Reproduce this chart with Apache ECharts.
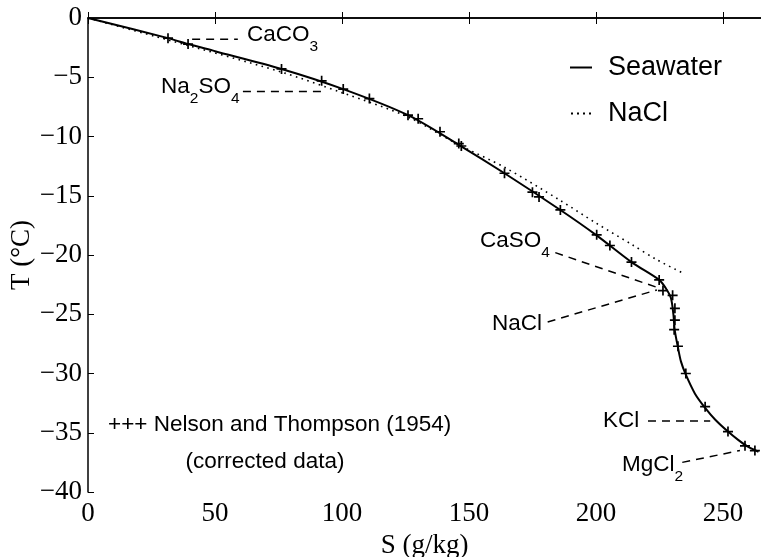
<!DOCTYPE html>
<html><head><meta charset="utf-8">
<script src="https://cdn.jsdelivr.net/npm/echarts@6/dist/echarts.min.js"></script>
<style>html,body{margin:0;padding:0;background:#fff}#c{width:761px;height:557px}</style>
</head><body><div id="c"></div>
<script>
// Seawater freezing curve (S g/kg, T °C)
const seawaterS = [0, 31.5, 39.4, 50, 76.2, 100.5, 126, 146, 164, 186, 200, 214, 224.9, 227.5, 229.5, 230.5, 231, 232.3, 233.5, 235.4, 239, 243, 247, 252, 256, 260, 264];
const seawaterT = [0, -1.7, -2.2, -2.8, -4.3, -6.0, -8.2, -10.7, -13.1, -16.2, -18.3, -20.6, -22.1, -22.8, -23.6, -25.0, -26.3, -27.8, -29.0, -30.1, -31.7, -32.9, -33.9, -34.9, -35.6, -36.2, -36.6];
// NaCl freezing curve (dotted)
const naclS = [0, 31.5, 76, 100, 126, 146, 164, 186, 200, 214, 224, 234];
const naclT = [0, -1.85, -4.55, -6.3, -8.35, -10.7, -12.6, -15.4, -17.3, -19.1, -20.4, -21.5];
// Nelson and Thompson (1954) corrected data
const obsS = [31.5, 39.4, 76.2, 92, 100.5, 110.8, 126, 130, 138.6, 146, 147, 164, 175, 177.6, 186, 200.3, 205.5, 214, 224.9, 226.4, 230.2, 231.1, 231.1, 230.8, 232.3, 235.4, 243, 252, 258.7, 262.6];
const obsT = [-1.7, -2.2, -4.3, -5.3, -6.0, -6.8, -8.2, -8.5, -9.6, -10.6, -10.8, -13.1, -14.7, -15.1, -16.2, -18.3, -19.2, -20.6, -22.1, -23.0, -23.4, -24.5, -25.5, -26.3, -27.7, -30.0, -32.8, -34.9, -36.1, -36.5];
// Precipitation annotations
const annoNames = ['CaCO3', 'Na2SO4', 'CaSO4', 'NaCl', 'KCl', 'MgCl2'];
const annoText = ['{m|CaCO}{s|3}', '{m|Na}{s|2}{m|SO}{s|4}', '{m|CaSO}{s|4}', '{m|NaCl}', '{m|KCl}', '{m|MgCl}{s|2}'];
const annoLabelS = [62.6, 28.7, 154.3, 158.9, 202.8, 210.2];
const annoLabelT = [-1.43, -5.82, -18.78, -25.86, -34.05, -37.76];
const leaderS = [[41, 59], [61, 94], [184, 225], [181, 224], [220.5, 245], [234, 256.7]];
const leaderT = [[-1.8, -1.8], [-6.2, -6.2], [-19.8, -22.8], [-25.65, -22.95], [-34.0, -34.0], [-37.5, -36.5]];
const xTicks = [0, 50, 100, 150, 200, 250];
const yTicks = [0, -5, -10, -15, -20, -25, -30, -35, -40];

const zip = (a, b) => a.map((v, i) => [v, b[i]]);
const serif = 'Liberation Serif';
const sans = 'Liberation Sans';
const fmtNum = v => (xTicks.includes(v) || yTicks.includes(v)) ? '{t|' + String(v).replace('-', '\u2212') + '}' : '';
const tickRich = { t: { fontFamily: serif, fontSize: 27, color: '#000' } };

const series = [
  { name: 'Seawater', type: 'line', data: zip(seawaterS, seawaterT), smooth: 0.3, symbol: 'none',
    itemStyle: { color: '#000' }, lineStyle: { color: '#000', width: 2 }, z: 5 },
  { name: 'NaCl', type: 'line', data: zip(naclS, naclT), smooth: 0.3, symbol: 'none',
    itemStyle: { color: '#000' }, lineStyle: { color: '#000', width: 1.6, type: [1.6, 4.4] }, z: 4 },
  { name: 'obs', type: 'scatter', data: zip(obsS, obsT),
    symbol: 'path://M4.15,0H5.85V4.15H10V5.85H5.85V10H4.15V5.85H0V4.15H4.15Z', symbolSize: 10,
    itemStyle: { color: '#000', opacity: 1 }, z: 6 }
];
leaderS.forEach((s, i) => {
  series.push({ name: 'leader' + i, type: 'line', data: zip(s, leaderT[i]), symbol: 'none', silent: true,
    itemStyle: { color: '#000' }, lineStyle: { color: '#000', width: 1.5, type: [8, 6] }, z: 3 });
});

const staticGraphics = [
  { type: 'text', x: 108, y: 425, style: { text: '+++ Nelson and Thompson (1954)', font: '22.5px "Liberation Sans"', fill: '#000', textAlign: 'left', textVerticalAlign: 'middle' } },
  { type: 'text', x: 265, y: 462, style: { text: '(corrected data)', font: '22.5px "Liberation Sans"', fill: '#000', textAlign: 'center', textVerticalAlign: 'middle' } }
];

const chart = echarts.init(document.getElementById('c'), null, { renderer: 'canvas' });
chart.setOption({
  backgroundColor: '#fff',
  animation: false,
  textStyle: { fontFamily: serif },
  grid: { left: 88, right: 0, top: 18, bottom: 65, containLabel: false, outerBoundsMode: 'none' },
  legend: {
    data: [
      { name: 'Seawater', icon: 'rect' },
      { name: 'NaCl', icon: 'path://M0,0h2v2h-2zM6,0h2v2h-2zM12,0h2v2h-2zM18,0h2v2h-2z' }
    ],
    orient: 'vertical', left: 565, top: 49,
    itemWidth: 22, itemHeight: 2, itemGap: 19,
    textStyle: { fontFamily: sans, fontSize: 27, color: '#000', padding: [0, 0, 0, 11] }
  },
  xAxis: [
    { type: 'value', min: 0, max: 265, interval: 50, position: 'bottom',
      name: 'S (g/kg)', nameLocation: 'middle', nameGap: 40, nameMoveOverlap: false,
      nameTextStyle: { fontFamily: serif, fontSize: 27, color: '#000' },
      axisLine: { lineStyle: { color: '#000', width: 1.5 } },
      axisTick: { inside: true, length: 6, lineStyle: { color: '#000', width: 1 } },
      axisLabel: { fontFamily: serif, fontSize: 27, color: '#000', margin: 8, showMaxLabel: false, formatter: fmtNum, rich: tickRich },
      splitLine: { show: false } },
    { type: 'value', min: 0, max: 265, interval: 50, position: 'top',
      axisLine: { show: true, lineStyle: { color: '#000', width: 1.5 } },
      axisTick: { show: true, inside: true, length: 6, lineStyle: { color: '#000', width: 1 } },
      axisLabel: { show: false }, splitLine: { show: false } }
  ],
  yAxis: [
    { type: 'value', min: -40, max: 0, interval: 5,
      name: 'T (\u00b0C)', nameLocation: 'middle', nameGap: 53, nameRotate: 90, nameMoveOverlap: false,
      nameTextStyle: { fontFamily: serif, fontSize: 27, color: '#000' },
      axisLine: { lineStyle: { color: '#000', width: 1.5 } },
      axisTick: { inside: true, length: 6, lineStyle: { color: '#000', width: 1 } },
      axisLabel: { fontFamily: serif, fontSize: 27, color: '#000', margin: 6, formatter: fmtNum, rich: tickRich },
      splitLine: { show: false } }
  ],
  graphic: staticGraphics,
  series: series
});

// Chemical annotation labels placed through the chart's own scales
const annoRich = {
  m: { fontFamily: sans, fontSize: 22.5, lineHeight: 24, fill: '#000', verticalAlign: 'top' },
  s: { fontFamily: sans, fontSize: 15.5, lineHeight: 16, fill: '#000', verticalAlign: 'top', padding: [16, 0, 0, 0] }
};
const annoGraphics = annoNames.map((n, i) => {
  const p = chart.convertToPixel({ gridIndex: 0 }, [annoLabelS[i], annoLabelT[i]]);
  return { type: 'text', id: 'anno' + i, x: Math.round(p[0]), y: Math.round(p[1]) - 12,
    style: { text: annoText[i], rich: annoRich, fill: '#000', align: 'left', verticalAlign: 'top' } };
});
chart.setOption({ graphic: staticGraphics.concat(annoGraphics) });
</script>
</body></html>
